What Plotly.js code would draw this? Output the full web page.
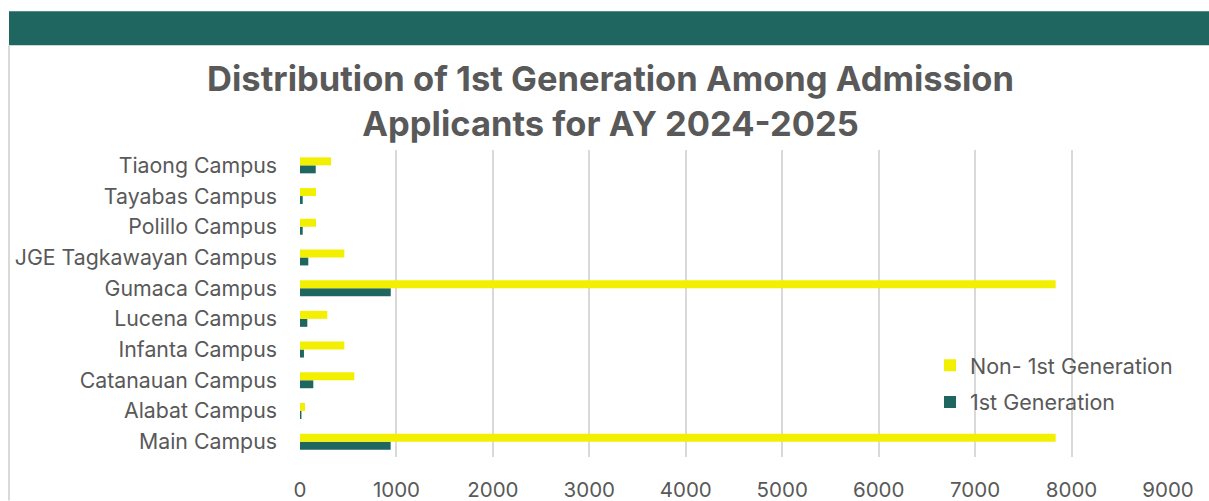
<!DOCTYPE html>
<html>
<head>
<meta charset="utf-8">
<script src="https://cdn.plot.ly/plotly-3.0.1.min.js"></script>
<style>html,body{margin:0;padding:0;background:#fff;}#chart{width:1209px;height:501px;}</style>
</head>
<body>
<div id="chart"></div>
<script>
const campuses = ["Main Campus","Alabat Campus","Catanauan Campus","Infanta Campus","Lucena Campus","Gumaca Campus","JGE Tagkawayan Campus","Polillo Campus","Tayabas Campus","Tiaong Campus"];
const firstGen = [940, 15, 138, 41, 76, 941, 86, 28, 28, 163];
const nonFirstGen = [7835, 52, 563, 460, 283, 7835, 460, 166, 166, 322];
const xTicks = [0,1000,2000,3000,4000,5000,6000,7000,8000,9000];

const green = "#1F6560";
const yellow = "#F2F000";
const gray = "#595959";
const font = "Inter, 'Open Sans', sans-serif";

const L = 300, R = 41, T = 150, B = 43.5;
const W = 1209, H = 501;
const pw = W - L - R, ph = H - T - B;
const px = p => (p - L) / pw;
const py = p => 1 - (p - T) / ph;

const data = [
  {type:"bar", orientation:"h", name:"1st Generation", legendgroup:"a", legendrank:2, y:campuses, x:firstGen,
   marker:{color:green}, hoverinfo:"x+y"},
  {type:"bar", orientation:"h", name:"Non- 1st Generation", legendgroup:"b", legendrank:1, y:campuses, x:nonFirstGen,
   marker:{color:yellow}, hoverinfo:"x+y"}
];

const layout = {
  width:W, height:H,
  margin:{l:L, r:R, t:T, b:B, pad:0},
  paper_bgcolor:"#fff", plot_bgcolor:"#fff",
  barmode:"group", bargap:0.48, bargroupgap:0,
  font:{family:font, color:gray, size:19},
  title:{text:"<b>Distribution of 1st Generation Among Admission<br>Applicants for AY 2024-2025</b>",
         font:{family:font, size:34.5, color:gray}, x:0.505, xanchor:"center", y:0.818, yanchor:"middle"},
  xaxis:{range:[0,9000], tickvals:xTicks, ticktext:xTicks.map(String), showgrid:true, gridcolor:"#d9d9d9", gridwidth:2,
         zeroline:false, showline:false, ticks:"", ticklabelstandoff:18, tickfont:{size:20.5, color:gray, family:font}, fixedrange:true},
  yaxis:{type:"category", showgrid:false, zeroline:false, showline:false, ticks:"", ticklabelstandoff:22,
         tickfont:{size:21.3, color:gray, family:font}, fixedrange:true},
  showlegend:true,
  legend:{x:px(930), y:py(345), xanchor:"left", yanchor:"top", traceorder:"grouped",
          font:{size:21.5, color:gray, family:font}, bgcolor:"rgba(0,0,0,0)", itemwidth:30, tracegroupgap:6},
  shapes:[
    {type:"rect", xref:"paper", yref:"paper", x0:px(9), x1:px(1209), y0:py(45), y1:py(11),
     fillcolor:green, line:{width:0}, layer:"above"},
    {type:"line", xref:"paper", yref:"paper", x0:px(9), x1:px(9), y0:py(45), y1:py(501),
     line:{color:"#d9d9d9", width:2}}
  ]
};

Plotly.newPlot("chart", data, layout, {displayModeBar:false, staticPlot:true});
</script>
</body>
</html>
